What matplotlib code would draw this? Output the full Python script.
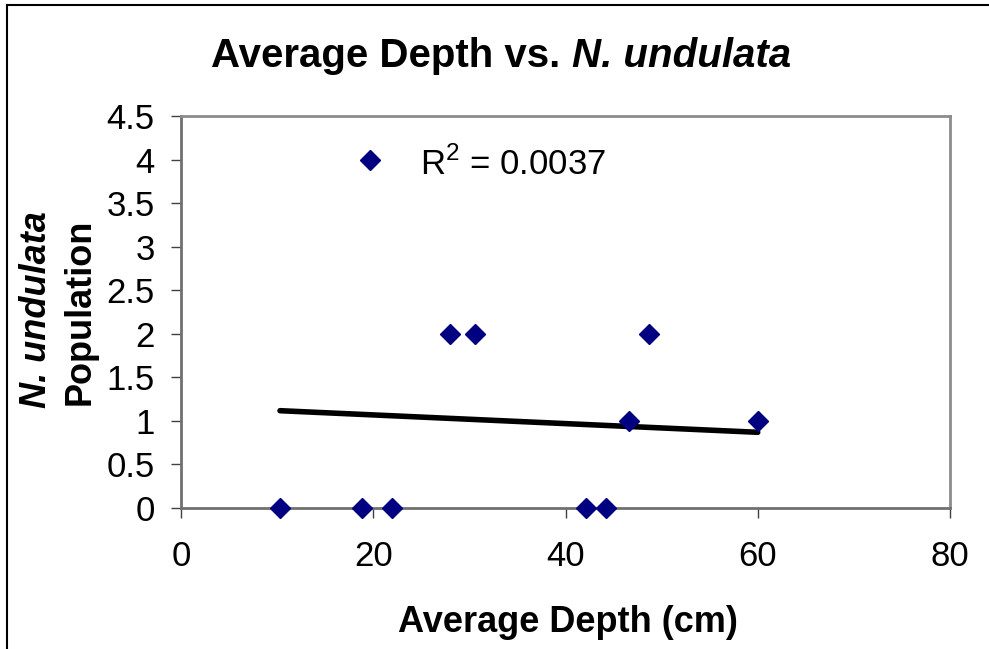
import matplotlib
matplotlib.use("Agg")
import matplotlib.pyplot as plt
from matplotlib.lines import Line2D

plt.rcParams["font.family"] = ["Liberation Sans", "DejaVu Sans"]
plt.rcParams["mathtext.fontset"] = "custom"
plt.rcParams["mathtext.rm"] = "Liberation Sans"

# data
depth = [10.3, 18.8, 19.7, 22.0, 28.0, 30.6, 42.1, 44.2, 46.6, 48.7, 60.0]
population = [0, 0, 4, 0, 2, 2, 0, 0, 1, 2, 1]

# linear trendline (as drawn in the chart)
trend_x = [10.3, 60.0]
trend_y = [1.117, 0.869]
r_squared = 0.0037

x_ticks = [0, 20, 40, 60, 80]
y_ticks = [0, 0.5, 1, 1.5, 2, 2.5, 3, 3.5, 4, 4.5]
y_tick_labels = ["0", "0.5", "1", "1.5", "2", "2.5", "3", "3.5", "4", "4.5"]

W, H = 989, 649
fig = plt.figure(figsize=(W / 100, H / 100), dpi=100)
ax = fig.add_axes([181 / W, 1 - 508 / H, (950 - 181) / W, (508 - 116) / H])

ax.plot(trend_x, trend_y, color="black", lw=4, solid_capstyle="round", zorder=2)
ax.plot(depth, population, linestyle="none", marker="D", markersize=10.5,
        color="#000080", zorder=3, clip_on=False)

ax.set_xlim(0, 80)
ax.set_ylim(0, 4.5)
ax.set_xticks(x_ticks)
ax.set_yticks(y_ticks)
ax.set_yticklabels(y_tick_labels)
ax.tick_params(axis="both", direction="out", length=7, width=1, color="#404040",
               labelsize=25)
ax.tick_params(axis="y", pad=12)
ax.tick_params(axis="x", pad=16)

for side in ["top", "right"]:
    ax.spines[side].set_color("#8c8c8c")
    ax.spines[side].set_linewidth(2)
for side in ["left", "bottom"]:
    ax.spines[side].set_color("#707070")
    ax.spines[side].set_linewidth(2)

ax.text((420 - 181) / (950 - 181), (508 - 164) / (508 - 116),
        r"R$^2$ = %.4f" % r_squared, transform=ax.transAxes,
        fontsize=25, va="center", ha="left")

# title: regular bold part + bold italic species name
t1 = fig.text(0, 1 - 56 / H, "Average Depth vs. ", fontsize=29,
              fontweight="bold", ha="left", va="center")
t2 = fig.text(0, 1 - 56 / H, "N. undulata", fontsize=29, fontweight="bold",
              style="italic", ha="left", va="center")

fig.text(568 / W, 1 - 622 / H, "Average Depth (cm)", fontsize=26,
         fontweight="bold", ha="center", va="center")

# y label, two rotated lines
fig.text(37 / W, 1 - 310 / H, "N. undulata", fontsize=26, fontweight="bold",
         style="italic", rotation=90, ha="center", va="center")
fig.text(80 / W, 1 - 312 / H, "Population", fontsize=26, fontweight="bold",
         rotation=90, ha="center", va="center")

fig.canvas.draw()
r = fig.canvas.get_renderer()
w1 = t1.get_window_extent(r).width
w2 = t2.get_window_extent(r).width
x0 = 501 - (w1 + w2) / 2
t1.set_x(x0 / W)
t2.set_x((x0 + w1) / W)

# outer chart border (top and left edges visible)
fig.add_artist(Line2D([7 / W, 1], [1 - 5 / H, 1 - 5 / H], color="black", lw=1.5))
fig.add_artist(Line2D([7 / W, 7 / W], [0, 1 - 5 / H], color="black", lw=1.5))

fig.savefig("out.png", dpi=100)
